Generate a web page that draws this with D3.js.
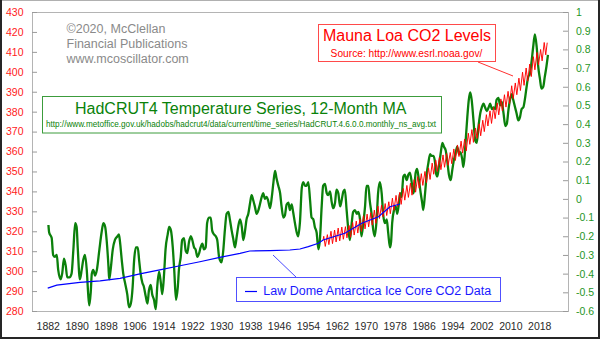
<!DOCTYPE html>
<html>
<head>
<meta charset="utf-8">
<title>HadCRUT4 Temperature and CO2</title>
<script src="https://cdn.jsdelivr.net/npm/d3@7"></script>
<style>
	html, body { margin: 0; padding: 0; background: #fff; }
	svg { display: block; }
</style>
</head>
<body>
<div id="chart"></div>
<script>
'use strict';

// axis ticks
var yearTicks = [1882, 1890, 1898, 1906, 1914, 1922, 1930, 1938, 1946, 1954, 1962, 1970, 1978, 1986, 1994, 2002, 2010, 2018];
var ppmTicks = [280, 290, 300, 310, 320, 330, 340, 350, 360, 370, 380, 390, 400, 410, 420, 430];
var tempTicks = [-0.6, -0.5, -0.4, -0.3, -0.2, -0.1, 0, 0.1, 0.2, 0.3, 0.4, 0.5, 0.6, 0.7, 0.8, 0.9, 1];

// HadCRUT4 global anomaly, 12-month moving average [year, deg C]
var hadcrut = [
	[1882.2,-0.14],[1882.4,-0.18],[1883.1,-0.21],[1883.5,-0.30],[1884.0,-0.31],[1884.5,-0.30],[1884.9,-0.38],[1885.6,-0.43],
	[1886.0,-0.40],[1886.5,-0.32],[1887.0,-0.36],[1887.4,-0.42],[1888.0,-0.42],[1888.6,-0.40],[1889.1,-0.27],[1889.6,-0.13],
	[1890.0,-0.15],[1890.3,-0.26],[1890.9,-0.43],[1891.4,-0.38],[1891.8,-0.33],[1892.3,-0.30],[1892.8,-0.38],[1893.2,-0.51],
	[1893.5,-0.57],[1893.9,-0.50],[1894.2,-0.40],[1894.6,-0.38],[1895.1,-0.41],[1895.6,-0.38],[1896.3,-0.27],[1896.9,-0.18],
	[1897.4,-0.13],[1897.9,-0.15],[1898.3,-0.22],[1898.8,-0.36],[1899.0,-0.43],[1899.4,-0.38],[1900.0,-0.27],[1900.6,-0.22],
	[1901.3,-0.20],[1901.7,-0.19],[1902.0,-0.23],[1902.5,-0.33],[1902.9,-0.40],[1903.4,-0.45],[1904.0,-0.51],[1904.5,-0.58],
	[1905.0,-0.56],[1905.5,-0.47],[1905.9,-0.33],[1906.4,-0.26],[1906.9,-0.26],[1907.3,-0.33],[1907.7,-0.40],[1908.2,-0.45],
	[1908.6,-0.47],[1909.1,-0.52],[1909.6,-0.56],[1910.0,-0.49],[1910.5,-0.46],[1910.9,-0.51],[1911.4,-0.54],[1911.9,-0.59],
	[1912.3,-0.47],[1912.8,-0.39],[1913.3,-0.45],[1913.7,-0.51],[1914.2,-0.40],[1914.6,-0.27],[1915.2,-0.19],[1915.6,-0.15],
	[1916.1,-0.17],[1916.6,-0.26],[1917.0,-0.38],[1917.5,-0.54],[1918.0,-0.47],[1918.3,-0.38],[1918.8,-0.31],[1919.2,-0.22],
	[1919.7,-0.21],[1920.2,-0.28],[1920.6,-0.29],[1921.1,-0.23],[1921.6,-0.20],[1922.0,-0.22],[1922.5,-0.26],[1922.9,-0.27],
	[1923.4,-0.31],[1923.9,-0.29],[1924.3,-0.26],[1924.8,-0.24],[1925.2,-0.27],[1925.7,-0.26],[1926.1,-0.13],[1926.6,-0.10],
	[1927.1,-0.10],[1927.5,-0.17],[1928.0,-0.19],[1928.5,-0.20],[1928.9,-0.22],[1929.4,-0.31],[1929.7,-0.33],[1930.1,-0.34],
	[1930.6,-0.27],[1931.0,-0.17],[1931.5,-0.08],[1932.0,-0.07],[1932.4,-0.11],[1932.9,-0.17],[1933.3,-0.21],[1933.8,-0.26],
	[1934.3,-0.20],[1934.7,-0.15],[1935.2,-0.11],[1935.7,-0.15],[1936.1,-0.22],[1936.6,-0.17],[1937.0,-0.11],[1937.5,-0.08],
	[1938.0,-0.02],[1938.4,0.02],[1938.9,-0.01],[1939.3,-0.04],[1939.8,-0.08],[1940.3,-0.06],[1940.7,-0.03],[1941.2,0.01],
	[1941.6,0.03],[1942.1,0.00],[1942.6,0.01],[1943.0,-0.01],[1943.5,-0.05],[1944.0,0.01],[1944.4,0.08],[1944.9,0.15],
	[1945.3,0.11],[1945.8,0.07],[1946.3,0.03],[1946.7,-0.04],[1947.2,-0.10],[1947.6,-0.09],[1948.1,-0.03],[1948.6,-0.02],
	[1949.0,-0.06],[1949.5,-0.03],[1949.9,-0.07],[1950.4,-0.13],[1950.9,-0.18],[1951.3,-0.20],[1951.8,-0.12],[1952.3,0.06],
	[1952.7,0.09],[1953.2,0.07],[1953.6,0.07],[1954.1,0.09],[1954.6,-0.01],[1955.0,-0.10],[1955.5,-0.11],[1955.9,-0.15],
	[1956.4,-0.18],[1956.9,-0.27],[1957.3,-0.22],[1957.8,-0.04],[1958.2,0.07],[1958.7,0.08],[1959.2,0.03],[1959.6,0.02],
	[1960.1,0.04],[1960.6,-0.02],[1961.0,-0.05],[1961.5,-0.02],[1961.9,0.05],[1962.4,0.03],[1962.9,-0.04],[1963.3,-0.01],
	[1963.8,0.04],[1964.2,0.05],[1964.7,-0.06],[1965.2,-0.17],[1965.6,-0.22],[1966.1,-0.13],[1966.5,-0.07],[1967.0,-0.06],
	[1967.5,-0.08],[1967.9,-0.07],[1968.4,-0.11],[1968.8,-0.20],[1969.3,-0.13],[1969.8,-0.04],[1970.2,0.07],[1970.7,0.07],
	[1971.1,-0.01],[1971.6,-0.08],[1972.1,-0.17],[1972.5,-0.20],[1973.0,-0.11],[1973.4,0.03],[1973.9,0.09],[1974.4,0.03],
	[1974.8,-0.08],[1975.3,-0.13],[1975.8,-0.11],[1976.2,-0.18],[1976.7,-0.26],[1977.0,-0.23],[1977.3,-0.13],[1977.8,-0.06],
	[1978.3,-0.04],[1978.7,-0.08],[1979.2,-0.02],[1979.5,0.03],[1979.9,0.01],[1980.4,0.12],[1980.8,0.13],[1981.3,0.10],
	[1981.8,0.13],[1982.2,0.14],[1982.7,0.09],[1983.1,0.03],[1983.4,0.05],[1983.8,0.14],[1984.2,0.16],[1984.7,0.10],
	[1985.2,0.03],[1985.6,-0.02],[1985.9,-0.06],[1986.4,0.03],[1986.9,0.14],[1987.3,0.19],[1987.8,0.24],[1988.2,0.23],
	[1988.7,0.23],[1989.2,0.19],[1989.4,0.14],[1989.8,0.12],[1990.2,0.17],[1990.7,0.24],[1991.2,0.30],[1991.6,0.28],
	[1992.1,0.26],[1992.5,0.21],[1993.0,0.13],[1993.5,0.10],[1993.9,0.15],[1994.4,0.21],[1994.8,0.24],[1995.3,0.28],
	[1995.8,0.24],[1996.2,0.25],[1996.7,0.21],[1997.0,0.17],[1997.4,0.24],[1997.7,0.33],[1998.1,0.44],[1998.5,0.53],
	[1998.9,0.57],[1999.3,0.53],[1999.8,0.42],[2000.3,0.31],[2000.7,0.30],[2001.2,0.39],[2001.7,0.46],[2002.1,0.49],
	[2002.6,0.51],[2003.0,0.49],[2003.5,0.47],[2004.0,0.49],[2004.4,0.51],[2004.9,0.48],[2005.3,0.49],[2005.8,0.48],
	[2006.2,0.53],[2006.7,0.54],[2007.2,0.50],[2007.6,0.52],[2008.1,0.46],[2008.6,0.39],[2009.0,0.40],[2009.5,0.48],
	[2009.9,0.53],[2010.4,0.56],[2010.8,0.53],[2011.3,0.49],[2011.7,0.46],[2012.2,0.42],[2012.7,0.44],[2013.1,0.48],
	[2013.6,0.49],[2014.0,0.53],[2014.5,0.60],[2014.9,0.65],[2015.4,0.67],[2015.9,0.74],[2016.3,0.81],[2016.8,0.88],
	[2017.3,0.81],[2017.7,0.71],[2018.2,0.64],[2018.6,0.59],[2019.1,0.60],[2019.5,0.65],[2020.0,0.71],[2020.4,0.77]
];

// Law Dome ice core CO2 [year, ppm]
var lawDome = [
	[1882.0,291.5],[1884.5,293.0],[1890.9,294.4],[1896.5,295.1],[1902.0,296.4],[1907.5,298.6],[1913.0,300.6],
	[1918.6,302.7],[1924.1,304.7],[1929.6,306.9],[1935.2,308.9],[1937.9,310.1],[1943.5,310.3],[1949.0,310.6],
	[1951.8,311.1],[1954.1,312.3],[1956.9,314.0],[1958.2,315.6],[1964.2,319.0],[1968.9,324.0],[1973.5,327.3],
	[1976.7,332.3],[1979.5,333.7]
];

// Mauna Loa CO2, seasonal highs and lows [year, ppm]
var maunaLoa = [
	[1958.2,315.7],[1958.37,317.5],[1958.79,312.4],[1959.37,318.3],[1959.79,313.3],[1960.37,320.0],[1960.79,313.8],
	[1961.37,320.6],[1961.79,314.6],[1962.37,321.6],[1962.79,315.2],[1963.37,322.1],[1963.79,316.0],[1964.37,322.3],
	[1964.79,316.7],[1965.37,322.9],[1965.79,317.0],[1966.37,324.4],[1966.79,318.1],[1967.37,325.1],[1967.79,319.1],
	[1968.37,326.1],[1968.79,319.9],[1969.37,327.8],[1969.79,321.2],[1970.37,328.6],[1970.79,322.2],[1971.37,329.3],
	[1971.79,323.1],[1972.37,330.6],[1972.79,324.0],[1973.37,332.6],[1973.79,326.4],[1974.37,333.1],[1974.79,327.2],
	[1975.37,333.9],[1975.79,327.9],[1976.37,334.8],[1976.79,328.8],[1977.37,336.6],[1977.79,330.5],[1978.37,338.0],
	[1978.79,332.3],[1979.37,339.4],[1979.79,333.5],[1980.37,341.5],[1980.79,335.6],[1981.37,343.0],[1981.79,337.0],
	[1982.37,344.2],[1982.79,338.1],[1983.37,345.9],[1983.79,339.6],[1984.37,347.4],[1984.79,341.6],[1985.37,348.9],
	[1985.79,343.0],[1986.37,350.0],[1986.79,344.4],[1987.37,351.8],[1987.79,346.0],[1988.37,354.2],[1988.79,348.6],
	[1989.37,355.6],[1989.79,350.0],[1990.37,357.0],[1990.79,350.9],[1991.37,358.3],[1991.79,352.1],[1992.37,359.0],
	[1992.79,353.1],[1993.37,359.5],[1993.79,353.9],[1994.37,361.3],[1994.79,355.5],[1995.37,363.3],[1995.79,357.5],
	[1996.37,365.2],[1996.79,359.2],[1997.37,366.3],[1997.79,360.3],[1998.37,369.2],[1998.79,363.6],[1999.37,371.0],
	[1999.79,364.6],[2000.37,371.8],[2000.79,366.6],[2001.37,373.9],[2001.79,367.9],[2002.37,375.7],[2002.79,370.0],
	[2003.37,378.5],[2003.79,372.8],[2004.37,380.4],[2004.79,374.1],[2005.37,382.2],[2005.79,376.5],[2006.37,384.4],
	[2006.79,378.4],[2007.37,386.4],[2007.79,380.4],[2008.37,388.5],[2008.79,382.3],[2009.37,390.2],[2009.79,384.0],
	[2010.37,393.0],[2010.79,386.6],[2011.37,394.4],[2011.79,388.5],[2012.37,396.8],[2012.79,390.6],[2013.37,399.8],
	[2013.79,393.2],[2014.37,401.9],[2014.79,395.3],[2015.37,403.9],[2015.79,397.6],[2016.37,407.6],[2016.79,401.0],
	[2017.37,409.7],[2017.79,403.4],[2018.37,411.2],[2018.79,405.5],[2019.37,414.7],[2019.79,408.5],[2020.2,414.6]
];

var width = 600;
var height = 339;
var plot = { left: 32, right: 568, top: 12, bottom: 311 };
var fontFamily = 'Arial, "Liberation Sans", sans-serif';

var x = d3.scaleLinear().domain([1877.65, 2025.95]).range([plot.left, plot.right]);
var yCO2 = d3.scaleLinear().domain([280, 430]).range([plot.bottom, plot.top]);
var yTemp = d3.scaleLinear().domain([-0.6, 1]).range([plot.bottom, plot.top]);

var svg = d3.select('#chart').append('svg')
	.attr('width', width)
	.attr('height', height)
	.attr('font-family', fontFamily);

svg.append('rect')
	.attr('width', width)
	.attr('height', height)
	.attr('fill', '#fff');


function styleAxis(g, colour) {
	g.attr('font-family', fontFamily).attr('font-size', 10.5);
	g.select('.domain').remove();
	g.selectAll('.tick line').attr('stroke', '#9a9a9a');
	g.selectAll('.tick text').attr('fill', colour);
}

// plot frame
svg.append('rect')
	.attr('x', plot.left + 0.5)
	.attr('y', plot.top + 0.5)
	.attr('width', plot.right - plot.left)
	.attr('height', plot.bottom - plot.top)
	.attr('fill', 'none')
	.attr('stroke', '#b4b4b4');

// CO2 scale on the left, ticks pointing into the plot
svg.append('g')
	.attr('transform', 'translate(' + plot.left + ',0)')
	.call(d3.axisLeft(yCO2).tickValues(ppmTicks).tickSize(-5).tickPadding(8.5).tickFormat(d3.format('d')))
	.call(styleAxis, '#ff1a1a');

// temperature scale on the right
svg.append('g')
	.attr('transform', 'translate(' + plot.right + ',0)')
	.call(d3.axisRight(yTemp).tickValues(tempTicks).tickSize(-5).tickPadding(8).tickFormat(function (d) {
		return String(d);
	}))
	.call(styleAxis, '#1f961f');

// years, labels only
svg.append('g')
	.attr('transform', 'translate(0,' + plot.bottom + ')')
	.call(d3.axisBottom(x).tickValues(yearTicks).tickSize(0).tickPadding(11.5).tickFormat(d3.format('d')))
	.call(styleAxis, '#2a2a2a');


function lineFor(yScale, curve) {
	return d3.line()
		.curve(curve)
		.x(function (d) { return x(d[0]); })
		.y(function (d) { return yScale(d[1]); });
}

svg.append('path')
	.datum(hadcrut)
	.attr('d', lineFor(yTemp, d3.curveMonotoneX))
	.attr('fill', 'none')
	.attr('stroke', '#0b800b')
	.attr('stroke-width', 2.3)
	.attr('stroke-linejoin', 'round');

svg.append('path')
	.datum(maunaLoa)
	.attr('d', lineFor(yCO2, d3.curveLinear))
	.attr('fill', 'none')
	.attr('stroke', '#ff0000')
	.attr('stroke-width', 0.95);

svg.append('path')
	.datum(lawDome)
	.attr('d', lineFor(yCO2, d3.curveLinear))
	.attr('fill', 'none')
	.attr('stroke', '#0000ff')
	.attr('stroke-width', 1.2);


// copyright lines
var credit = svg.append('g')
	.attr('fill', '#8a8a8a')
	.attr('font-size', 12.5);
['\u00a92020, McClellan', 'Financial Publications', 'www.mcoscillator.com'].forEach(function (t, i) {
	credit.append('text')
		.attr('x', 66.5)
		.attr('y', 32.7 + i * 15)
		.text(t);
});

// temperature series label
svg.append('rect')
	.attr('x', 42.5).attr('y', 96.5)
	.attr('width', 399).attr('height', 36.5)
	.attr('fill', '#fff')
	.attr('stroke', '#3c9c3c');
svg.append('text')
	.attr('x', 75).attr('y', 113.5)
	.attr('font-size', 16)
	.attr('fill', '#0a820a')
	.text('HadCRUT4 Temperature Series, 12-Month MA');
svg.append('text')
	.attr('x', 46).attr('y', 126.8)
	.attr('font-size', 8.8)
	.attr('fill', '#0a820a')
	.attr('textLength', 390)
	.attr('lengthAdjust', 'spacingAndGlyphs')
	.text('http://www.metoffice.gov.uk/hadobs/hadcrut4/data/current/time_series/HadCRUT.4.6.0.0.monthly_ns_avg.txt');

// Mauna Loa label and pointer
svg.append('line')
	.attr('x1', 478).attr('y1', 62)
	.attr('x2', 513).attr('y2', 76)
	.attr('stroke', '#ff3030');
svg.append('rect')
	.attr('x', 318.5).attr('y', 24.5)
	.attr('width', 177).attr('height', 37)
	.attr('fill', '#fff')
	.attr('stroke', '#ff4a4a');
svg.append('text')
	.attr('x', 407).attr('y', 40.5)
	.attr('text-anchor', 'middle')
	.attr('font-size', 16)
	.attr('fill', '#ff0000')
	.text('Mauna Loa CO2 Levels');
svg.append('text')
	.attr('x', 406.5).attr('y', 56.5)
	.attr('text-anchor', 'middle')
	.attr('font-size', 10.2)
	.attr('fill', '#ff0000')
	.text('Source: http://www.esrl.noaa.gov/');

// Law Dome label and pointer
svg.append('line')
	.attr('x1', 273).attr('y1', 255)
	.attr('x2', 297).attr('y2', 278)
	.attr('stroke', '#4a4aff');
svg.append('rect')
	.attr('x', 236.5).attr('y', 277.5)
	.attr('width', 264).attr('height', 24)
	.attr('fill', '#fff')
	.attr('stroke', '#5050ff');
svg.append('line')
	.attr('x1', 245).attr('y1', 291.5)
	.attr('x2', 257).attr('y2', 291.5)
	.attr('stroke', '#0000ff')
	.attr('stroke-width', 1.2);
svg.append('text')
	.attr('x', 263.3).attr('y', 295)
	.attr('font-size', 12.5)
	.attr('fill', '#1a1aff')
	.text('Law Dome Antarctica Ice Core CO2 Data');

// image border
svg.append('line')
	.attr('x1', 0).attr('y1', 0.5).attr('x2', width).attr('y2', 0.5)
	.attr('stroke', '#b0b0b0');
svg.append('path')
	.attr('d', 'M1,0V' + (height - 1) + 'H' + (width - 1) + 'V0')
	.attr('fill', 'none')
	.attr('stroke', '#262626')
	.attr('stroke-width', 2);
</script>
</body>
</html>
